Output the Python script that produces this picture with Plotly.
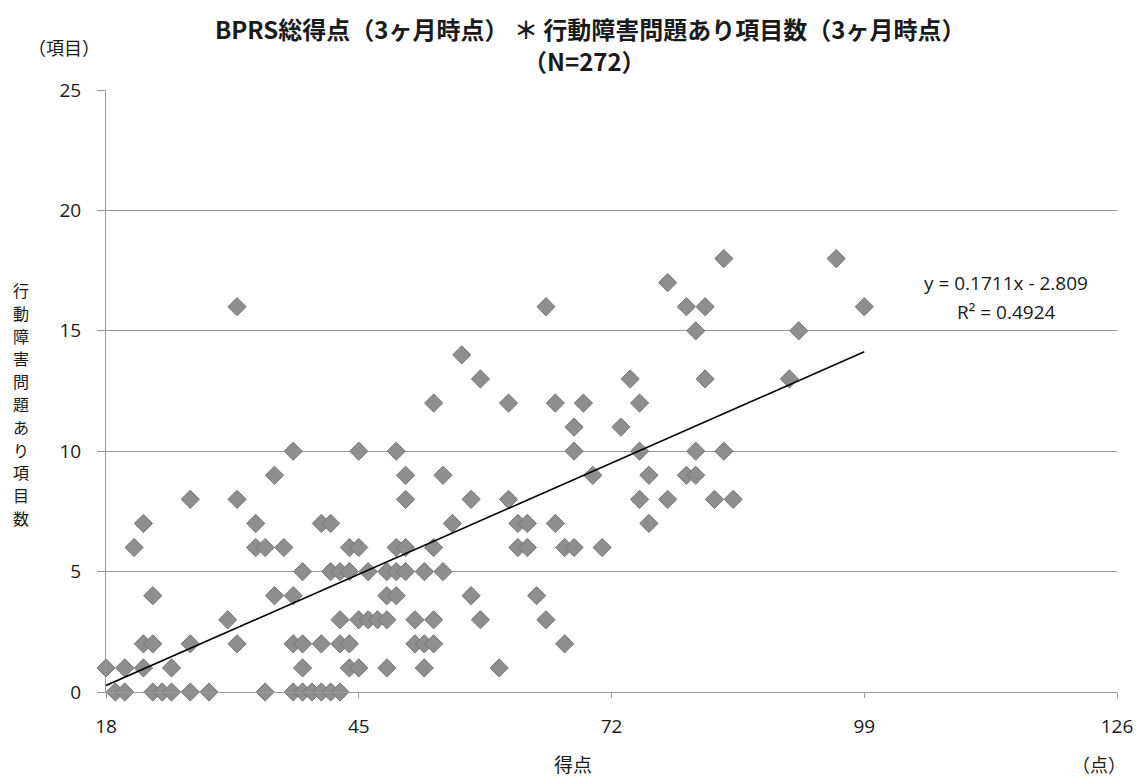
import plotly.graph_objects as go

# ---- data (BPRS total score vs. number of problem items) ----
score = [
    19, 20, 23, 24, 25, 27, 29, 35, 38, 39, 40, 41, 42, 43,          # y=0
    18, 20, 22, 25, 39, 44, 45, 48, 52, 60,                          # y=1
    22, 23, 27, 32, 38, 39, 41, 43, 44, 51, 52, 53, 67,              # y=2
    31, 43, 45, 46, 47, 48, 51, 53, 58, 65,                          # y=3
    23, 36, 38, 48, 49, 57, 64,                                      # y=4
    39, 42, 43, 44, 46, 48, 49, 50, 52, 54,                          # y=5
    21, 34, 35, 37, 44, 45, 49, 50, 53, 62, 63, 67, 68, 71,          # y=6
    22, 34, 41, 42, 55, 62, 63, 66, 76,                              # y=7
    27, 32, 50, 57, 61, 75, 78, 83, 85,                              # y=8
    36, 50, 54, 70, 76, 80, 81,                                      # y=9
    38, 45, 49, 68, 75, 81, 84,                                      # y=10
    68, 73,                                                          # y=11
    53, 61, 66, 69, 75,                                              # y=12
    58, 74, 82, 91,                                                  # y=13
    56,                                                              # y=14
    81, 92,                                                          # y=15
    32, 65, 80, 82, 99,                                              # y=16
    78,                                                              # y=17
    84, 96,                                                          # y=18
]
items = (
    [0] * 14 + [1] * 10 + [2] * 13 + [3] * 10 + [4] * 7 + [5] * 10 +
    [6] * 14 + [7] * 9 + [8] * 9 + [9] * 7 + [10] * 7 + [11] * 2 +
    [12] * 5 + [13] * 4 + [14] * 1 + [15] * 2 + [16] * 5 + [17] * 1 + [18] * 2
)

trend_slope = 0.1711
trend_intercept = -2.809
trend_eq_text = "y = 0.1711x - 2.809"
trend_r2_text = "R² = 0.4924"

x_ticks = [18, 45, 72, 99, 126]
y_ticks = [0, 5, 10, 15, 20, 25]

title_line1 = "BPRS総得点（3ヶ月時点） ＊ 行動障害問題あり項目数（3ヶ月時点）"
title_line2 = "（N=272）"
y_title = "行動障害問題あり項目数"
y_unit = "（項目）"
x_title = "得点"
x_unit = "（点）"

# ---- layout geometry (body margin removed by post_script) ----
W, H = 1145, 776
L, R, T, B = 106, 21, 90, 84

def px(xs):
    return (xs - L) / (W - L - R)

def py(ys):
    return (H - ys - B) / (H - T - B)

JP = "Noto Sans CJK JP"
NUM = "Open Sans, Noto Sans CJK JP"
INK = "#1a1a1a"

trend_x = [min(score), max(score)]
trend_y = [trend_slope * v + trend_intercept for v in trend_x]

fig = go.Figure()
fig.add_trace(go.Scatter(
    x=score, y=items, mode="markers",
    marker=dict(symbol="diamond", size=14, color="#8e8e8e",
                line=dict(color="#767676", width=1)),
    cliponaxis=False, showlegend=False, hoverinfo="x+y",
))
fig.add_trace(go.Scatter(
    x=trend_x, y=trend_y, mode="lines",
    line=dict(color="black", width=1.6),
    showlegend=False, hoverinfo="skip",
))

def note(text, xs, ys, size, family=JP, **kw):
    return dict(text=text, x=px(xs), y=py(ys), xref="paper", yref="paper",
                xanchor="center", yanchor="middle", showarrow=False,
                font=dict(family=family, size=size, color=INK), **kw)

annotations = [
    note(f"<b>{title_line1}</b>", 594, 28, 24),
    note(f"<b>{title_line2}</b>", 588, 60, 24),
    note(y_unit, 64, 47, 18),
    note(x_title, 576, 763, 19),
    note(x_unit, 1106, 764, 18),
    note(trend_eq_text, 1012, 283, 19, family=NUM),
    note(trend_r2_text, 1013, 312, 19, family=NUM),
]
for i, ch in enumerate(y_title):
    annotations.append(note(ch, 20, 290 + i * 22.8, 16))

fig.update_layout(
    width=W, height=H,
    margin=dict(l=L, r=R, t=T, b=B),
    paper_bgcolor="white", plot_bgcolor="white",
    font=dict(family=NUM, size=19, color=INK),
    xaxis=dict(
        range=[18, 126], tickvals=x_ticks, ticktext=[str(v) for v in x_ticks],
        showgrid=False, zeroline=False,
        showline=True, linecolor="#9a9a9a", linewidth=1,
        ticks="outside", ticklen=5, tickcolor="#9a9a9a",
        tickfont=dict(family=NUM, size=19, color=INK), ticklabelstandoff=12,
        ticklabeloverflow="allow",
    ),
    yaxis=dict(
        range=[0, 25], tickvals=y_ticks,
        showgrid=True, gridcolor="#9a9a9a", gridwidth=1,
        zeroline=False,
        showline=True, linecolor="#9a9a9a", linewidth=1,
        ticks="outside", ticklen=8, tickcolor="#9a9a9a",
        tickfont=dict(family=NUM, size=19, color=INK), ticklabelstandoff=12,
        ticklabeloverflow="allow",
    ),
    annotations=annotations,
)

fig.write_html(
    "out.html",
    config={"displayModeBar": False},
    post_script="document.body.style.margin='0';document.body.style.overflow='hidden';",
)
